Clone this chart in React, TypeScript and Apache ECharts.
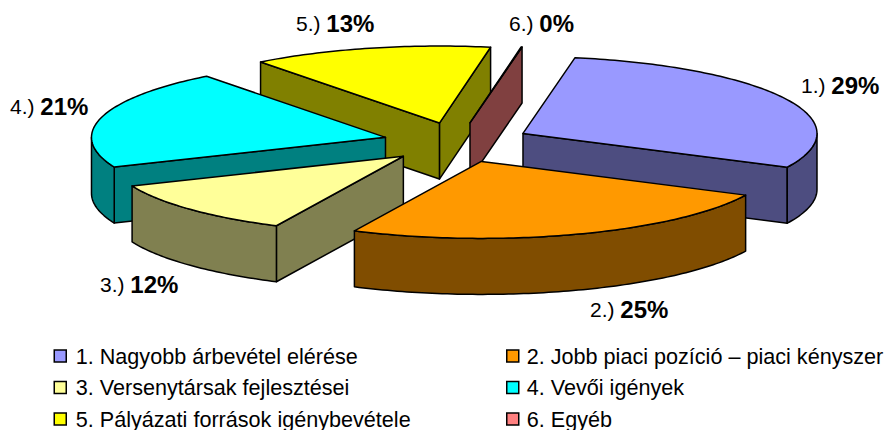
import React, { useEffect, useRef } from "react";
import * as echarts from "echarts";

const categories = [
  "1. Nagyobb árbevétel elérése",
  "2. Jobb piaci pozíció – piaci kényszer",
  "3. Versenytársak fejlesztései",
  "4. Vevői igények",
  "5. Pályázati források igénybevétele",
  "6. Egyéb",
];
const values = [29.4, 24.9, 11.6, 20.9, 13.2, 0.05];
const labelPrefixes = ["1.)", "2.)", "3.)", "4.)", "5.)", "6.)"];
const labelPercents = ["29%", "25%", "12%", "21%", "13%", "0%"];
const topColors = ["#9999FF", "#FF9900", "#FFFF99", "#00FFFF", "#FFFF00", "#FF8080"];
const sideColors = ["#4D4D80", "#804D00", "#808050", "#008080", "#808000", "#804040"];

// Back-to-front painting order of the slices
const paintOrder = [4, 5, 0, 3, 2, 1];
const labelAnchors: number[][] = [
  [801, 85.5],
  [590, 309.5],
  [100, 284.5],
  [10, 106.5],
  [296, 23.5],
  [509, 23.5],
];

const CX = 457;
const CY = 142.5;
const RX = 294;
const RY = 77;
const DEPTH = 56;
const EX = 74;
const EY = 20;
const START_DEG = 10.2;
const STROKE = { stroke: "#000", lineWidth: 1.5, lineJoin: "round" as const };

const total = values.reduce((a, b) => a + b, 0);
const rad = (d: number) => (d * Math.PI) / 180;

function sliceAngles(i: number) {
  const before = values.slice(0, i).reduce((a, b) => a + b, 0);
  return [START_DEG + (before / total) * 360, START_DEG + ((before + values[i]) / total) * 360];
}

function renderSlice(i: number) {
  return (_params: any, api: any) => {
    const [a0, a1] = sliceAngles(i);
    const mid = (a0 + a1) / 2;
    const ax = CX + EX * Math.sin(rad(mid));
    const ay = CY - EY * Math.cos(rad(mid));
    const rim = (d: number): number[] => [ax + RX * Math.sin(rad(d)), ay - RY * Math.cos(rad(d))];
    const down = (p: number[]): number[] => [p[0], p[1] + DEPTH];
    const face = (pts: number[][], fill: string) => ({
      type: "polygon",
      shape: { points: pts },
      style: { fill, ...STROKE },
    });

    const arc: number[][] = [];
    const steps = Math.max(1, Math.ceil(a1 - a0));
    for (let s = 0; s <= steps; s++) arc.push(rim(a0 + ((a1 - a0) * s) / steps));

    const side = sideColors[i];
    const children: any[] = [];

    // Radial cut faces that look towards the viewer, farther one first
    const cuts: { p: number[] }[] = [];
    if (Math.sin(rad(a0)) < 0) cuts.push({ p: rim(a0) });
    if (Math.sin(rad(a1)) > 0) cuts.push({ p: rim(a1) });
    cuts.sort((u, v) => u.p[1] - v.p[1]);
    const apex = [ax, ay];
    cuts.forEach((c) => children.push(face([apex, c.p, down(c.p), down(apex)], side)));

    // Visible part of the outer wall
    const w0 = Math.max(a0, 90);
    const w1 = Math.min(a1, 270);
    if (w1 > w0) {
      const wall: number[][] = [];
      const n = Math.ceil(w1 - w0);
      for (let s = 0; s <= n; s++) wall.push(rim(w0 + ((w1 - w0) * s) / n));
      children.push(face([...wall, ...wall.slice().reverse().map(down)], side));
    }

    // Top face
    children.push(face([apex, ...arc], api.visual("color")));

    // Data label
    children.push({
      type: "text",
      x: labelAnchors[i][0],
      y: labelAnchors[i][1],
      style: {
        text: `{n|${labelPrefixes[i]} }{p|${labelPercents[i]}}`,
        verticalAlign: "middle",
        rich: {
          n: { fontFamily: "Liberation Sans", fontSize: 21, fill: "#000", color: "#000" },
          p: { fontFamily: "Liberation Sans", fontSize: 24, fontWeight: "bold", fill: "#000", color: "#000" },
        },
      },
    });
    return { type: "group", children };
  };
}

function legend(names: string[], left: number, textPad: number) {
  return {
    orient: "vertical" as const,
    left,
    top: 345,
    height: 120,
    data: names,
    icon: "rect",
    itemWidth: 12,
    itemHeight: 12,
    itemGap: 9.5,
    selectedMode: false,
    padding: 0,
    inactiveBorderWidth: 0,
    itemStyle: { borderColor: "#000", borderWidth: 1.5 },
    textStyle: { fontFamily: "Liberation Sans", fontSize: 21.6, color: "#000", padding: [0, 0, 0, textPad], lineHeight: 21 },
  };
}

export default function App() {
  const ref = useRef<HTMLDivElement>(null);
  useEffect(() => {
    const chart = echarts.init(ref.current!, undefined, { renderer: "svg" });
    chart.setOption({
      animation: false,
      backgroundColor: "#fff",
      legend: [
        legend(categories.filter((_, i) => i % 2 === 0), 53.5, 4.5),
        legend(categories.filter((_, i) => i % 2 === 1), 506, 3),
      ],
      series: categories.map((name, i) => ({
        type: "custom",
        name,
        coordinateSystem: "none",
        silent: true,
        z: paintOrder.indexOf(i) + 2,
        itemStyle: { color: topColors[i] },
        data: [values[i]],
        renderItem: renderSlice(i),
      })),
    });
    return () => chart.dispose();
  }, []);
  return <div ref={ref} style={{ position: "absolute", left: 0, top: 0, width: 885, height: 430 }} />;
}
